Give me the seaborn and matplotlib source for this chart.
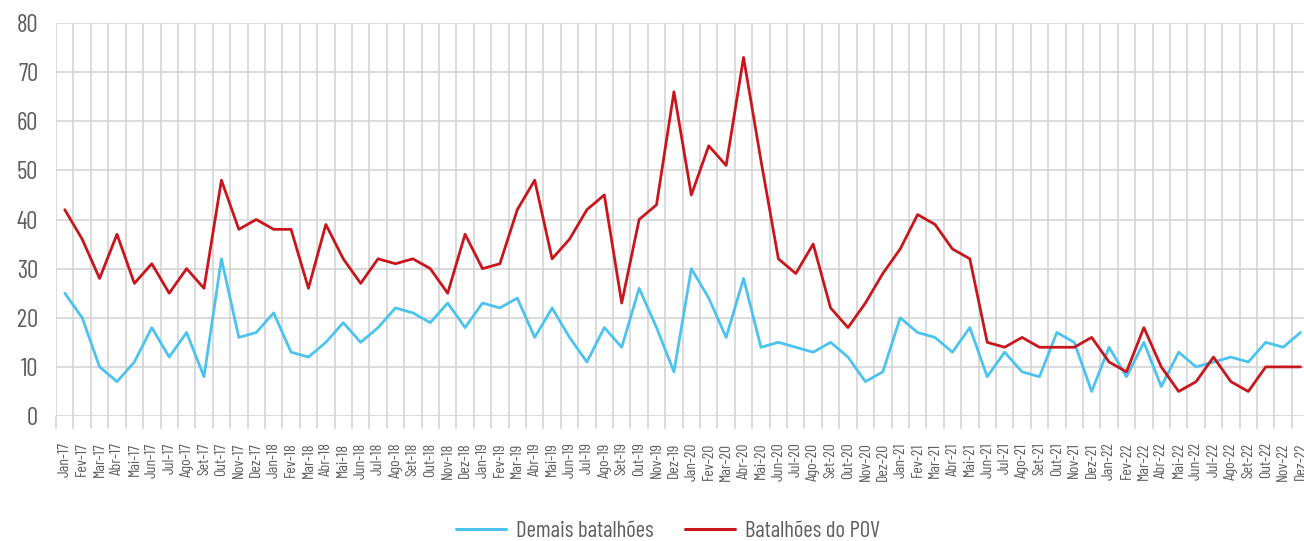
import numpy as np
import pandas as pd
import seaborn as sns
import matplotlib.pyplot as plt

# ==============================================================
# DATA
# ==============================================================
meses_pt = ["Jan", "Fev", "Mar", "Abr", "Mai", "Jun",
            "Jul", "Ago", "Set", "Out", "Nov", "Dez"]
anos = ["17", "18", "19", "20", "21", "22"]
meses = [f"{m}-{a}" for a in anos for m in meses_pt]

demais = [25, 20, 10, 7, 11, 18, 12, 17, 8, 32, 16, 17,
          21, 13, 12, 15, 19, 15, 18, 22, 21, 19, 23, 18,
          23, 22, 24, 16, 22, 16, 11, 18, 14, 26, 18, 9,
          30, 24, 16, 28, 14, 15, 14, 13, 15, 12, 7, 9,
          20, 17, 16, 13, 18, 8, 13, 9, 8, 17, 15, 5,
          14, 8, 15, 6, 13, 10, 11, 12, 11, 15, 14, 17]

pov = [42, 36, 28, 37, 27, 31, 25, 30, 26, 48, 38, 40,
       38, 38, 26, 39, 32, 27, 32, 31, 32, 30, 25, 37,
       30, 31, 42, 48, 32, 36, 42, 45, 23, 40, 43, 66,
       45, 55, 51, 73, 52, 32, 29, 35, 22, 18, 23, 29,
       34, 41, 39, 34, 32, 15, 14, 16, 14, 14, 14, 16,
       11, 9, 18, 10, 5, 7, 12, 7, 5, 10, 10, 10]

series_names = ["Demais batalhões", "Batalhões do POV"]
y_ticks = [0, 10, 20, 30, 40, 50, 60, 70, 80]

# ==============================================================
# STYLE
# ==============================================================
sns.set_style("white")
plt.rcParams['font.family'] = ["Barlow Condensed", "DejaVu Sans"]

GRAY_TXT = "#5f5f5f"
GRID = "#d4d4d4"
palette = {"Demais batalhões": "#4cc3ef", "Batalhões do POV": "#c8161d"}

df = pd.DataFrame({
    "mes": meses * 2,
    "valor": demais + pov,
    "serie": [series_names[0]] * len(meses) + [series_names[1]] * len(meses),
})

fig = plt.figure(figsize=(13.04, 5.41), dpi=100)
ax = fig.add_axes([0.043, 0.231, 0.961, 0.7265])

sns.lineplot(data=df, x="mes", y="valor", hue="serie", palette=palette,
             linewidth=2.0, ax=ax, sort=False, legend=False)

n = len(meses)
ax.set_xlim(-0.5, n - 0.5)
ax.set_ylim(0, 80)
ax.set_yticks(y_ticks)
ax.set_yticklabels([str(v) for v in y_ticks], fontsize=18, color=GRAY_TXT)
ax.set_xticks(range(n))
ax.set_xticklabels(meses, rotation=90, fontsize=11.5, color=GRAY_TXT)
ax.tick_params(axis="x", length=0, pad=19)
ax.tick_params(axis="y", length=0, pad=13)

# grid: horizontal at y ticks, vertical at category boundaries
for v in y_ticks:
    ax.axhline(v, color=GRID, lw=1.2, zorder=0)
for b in np.arange(-0.5, n, 1.0):
    ax.axvline(b, color=GRID, lw=1.2, zorder=0)
    ax.plot([b, b], [0, -2.5], color=GRID, lw=1.2, clip_on=False, zorder=0)

for s in ax.spines.values():
    s.set_visible(False)
ax.set_xlabel("")
ax.set_ylabel("")

handles = [plt.Line2D([], [], color=palette[s], lw=2.2) for s in series_names]
fig.legend(handles, series_names, loc="center", ncol=2, frameon=False,
           bbox_to_anchor=(0.5123, 0.018), fontsize=16.5, handlelength=2.18,
           columnspacing=1.4, handletextpad=0.44, labelcolor=GRAY_TXT)

fig.savefig("out.png", dpi=100)
